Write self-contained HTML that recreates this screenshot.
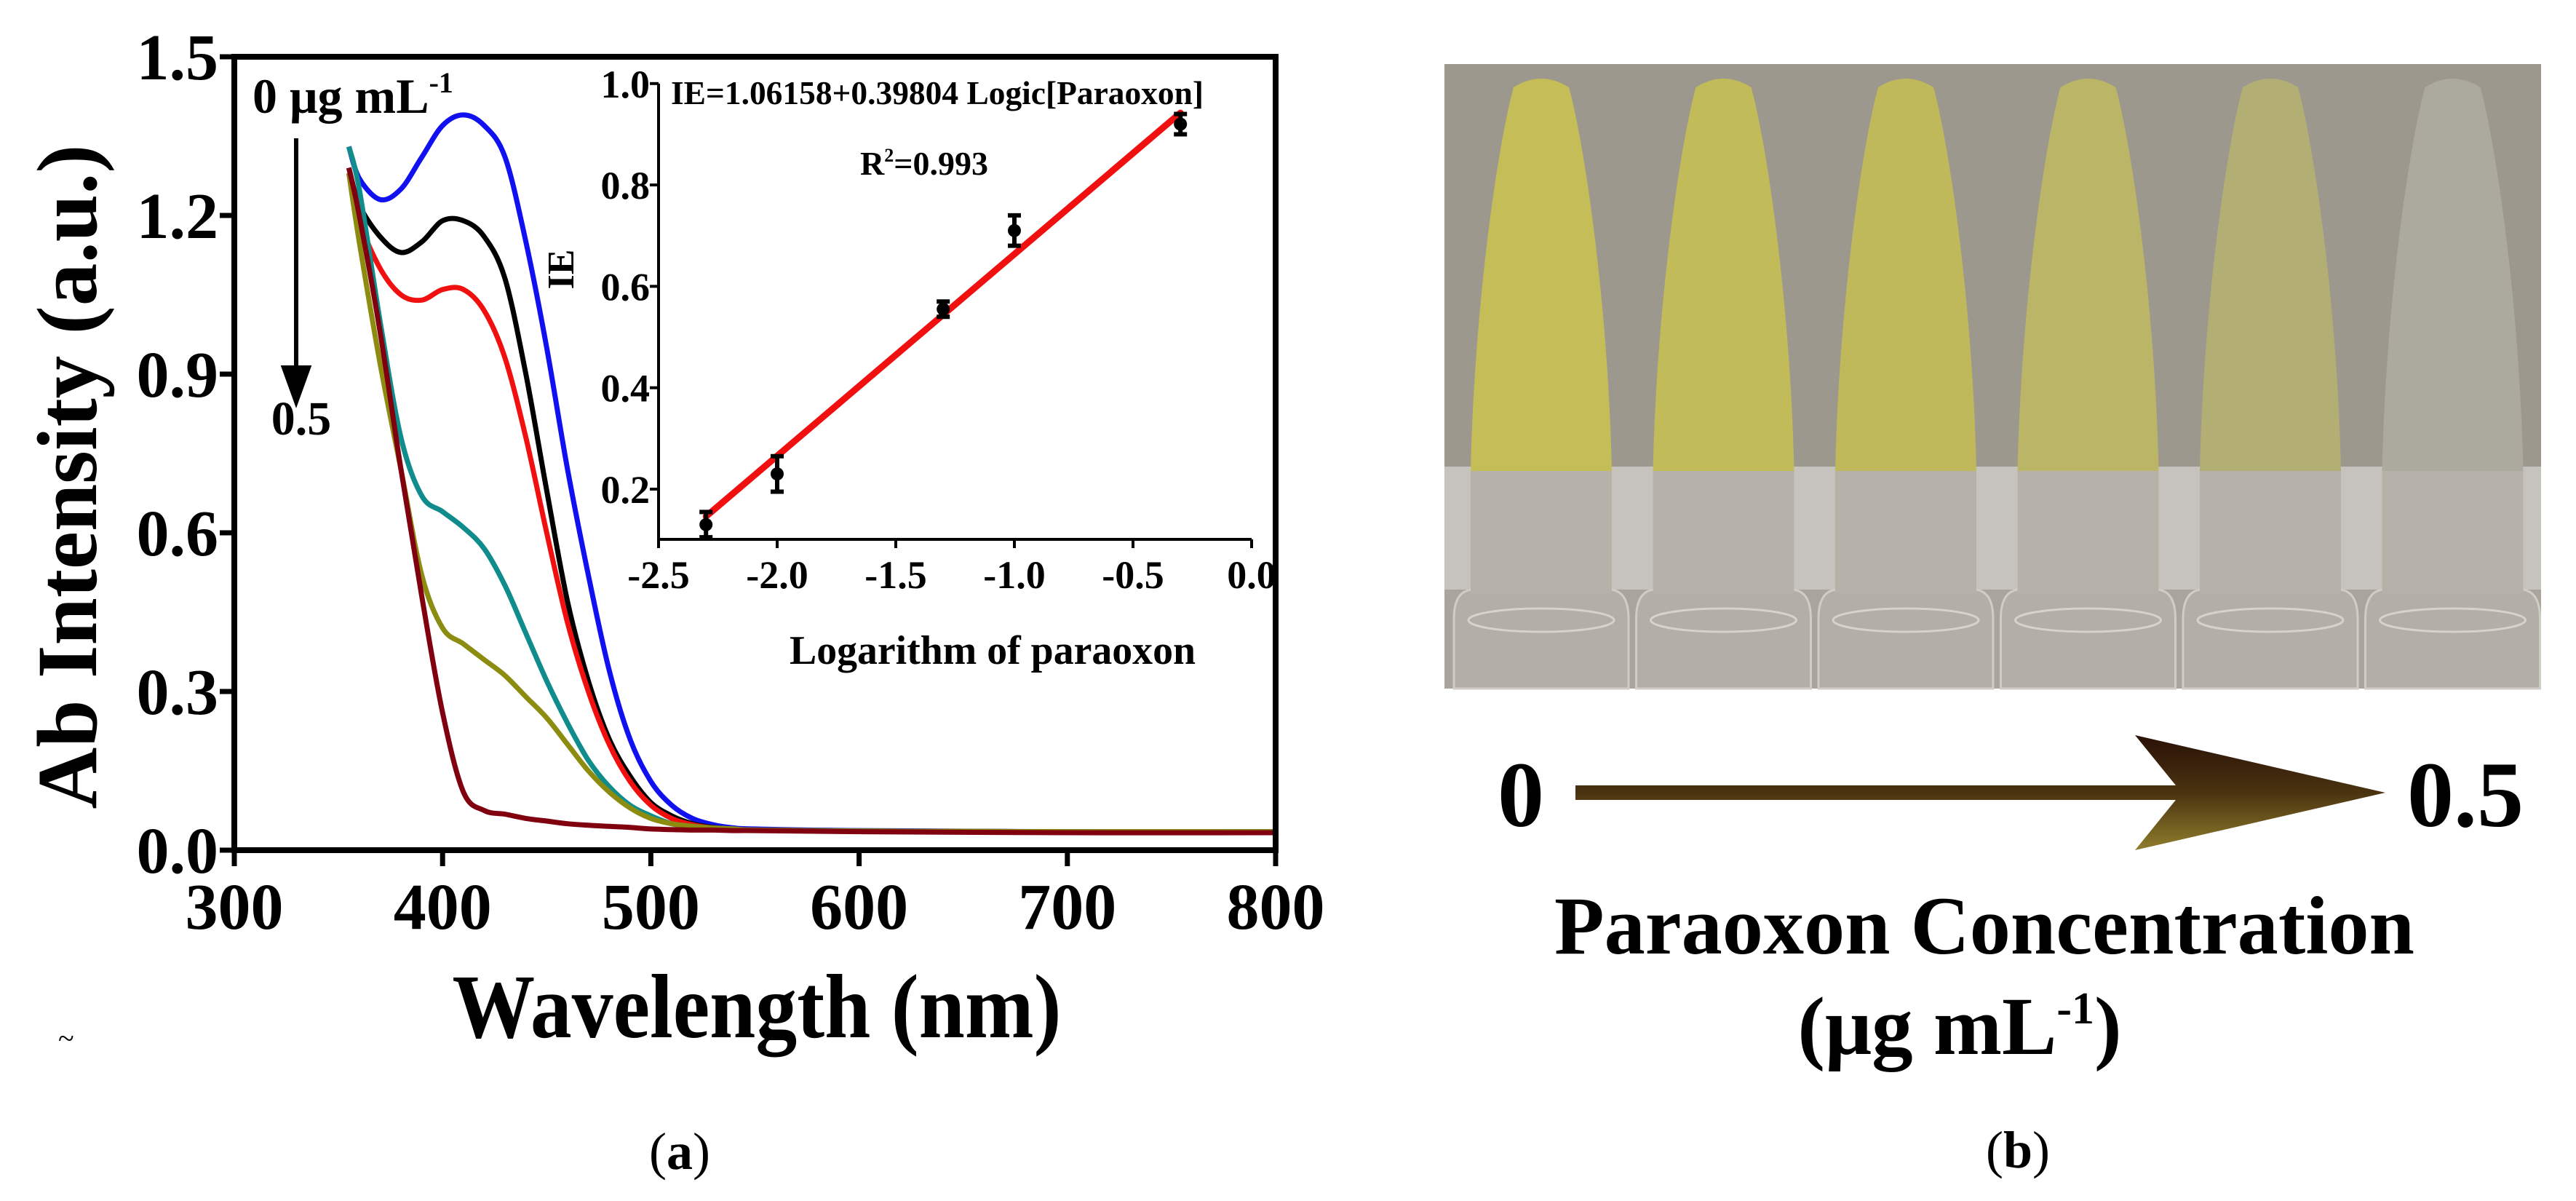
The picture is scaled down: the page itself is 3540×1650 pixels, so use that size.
<!DOCTYPE html>
<html><head><meta charset="utf-8"><style>
html,body{margin:0;padding:0;background:#fff}
svg{display:block}
text{font-family:"Liberation Serif",serif;font-weight:bold;fill:#000}
</style></head><body>
<svg id="fig" xmlns="http://www.w3.org/2000/svg" width="3540" height="1650" viewBox="0 0 3540 1650">
<defs>
<linearGradient id="arrowGrad" x1="0" y1="0" x2="0" y2="1">
<stop offset="0" stop-color="#2a1208"/><stop offset="0.5" stop-color="#4a3310"/><stop offset="1" stop-color="#8f7d2c"/>
</linearGradient>
</defs>
<g id="panelA"></g>
<g id="inset"></g>
<g id="panelB"></g>
<text x="934" y="1606" font-size="72" text-anchor="middle" style="font-weight:normal">(<tspan style="font-weight:bold">a</tspan>)</text>
<text x="2773" y="1604" font-size="72" text-anchor="middle" style="font-weight:normal">(<tspan style="font-weight:bold">b</tspan>)</text>
<text x="80" y="1440" font-size="40" style="font-weight:normal">~</text>
</svg>
<script>
// ---- Panel (a) data ----
const wavelengths = [355,360,370,380,390,400,410,420,430,440,450,460,470,480,490,500,510,520,530,540,550,600,700,800];
const seriesNames = ['0','0.05','0.1','0.2','0.3','0.5'];
const seriesColors = ['#1010f0','#000000','#f01010','#108c8c','#8c8c10','#800010'];
const blueVals   = [1.33,1.27,1.23,1.25,1.31,1.37,1.39,1.37,1.31,1.15,0.95,0.72,0.52,0.34,0.21,0.13,0.085,0.06,0.048,0.042,0.04,0.037,0.035,0.035];
const blackVals  = [1.29,1.22,1.16,1.13,1.15,1.19,1.19,1.16,1.08,0.90,0.68,0.47,0.32,0.21,0.14,0.09,0.065,0.05,0.043,0.04,0.038,0.036,0.035,0.035];
const redVals    = [1.28,1.19,1.10,1.05,1.04,1.06,1.06,1.02,0.93,0.78,0.60,0.43,0.30,0.20,0.13,0.085,0.06,0.048,0.042,0.04,0.038,0.036,0.035,0.035];
const tealVals   = [1.33,1.25,1.00,0.78,0.67,0.64,0.61,0.57,0.50,0.41,0.32,0.24,0.17,0.12,0.085,0.065,0.05,0.045,0.042,0.04,0.038,0.036,0.035,0.035];
const oliveVals  = [1.28,1.15,0.92,0.72,0.52,0.42,0.39,0.36,0.33,0.29,0.25,0.20,0.15,0.11,0.08,0.06,0.05,0.045,0.042,0.04,0.038,0.036,0.035,0.035];
const maroonVals = [1.29,1.20,0.98,0.72,0.48,0.26,0.11,0.075,0.068,0.06,0.055,0.05,0.047,0.045,0.043,0.04,0.039,0.038,0.038,0.037,0.037,0.035,0.033,0.033];
const xTicks = [300,400,500,600,700,800];
const yTicks = [0.0,0.3,0.6,0.9,1.2,1.5];
const yTickLabels = ['0.0','0.3','0.6','0.9','1.2','1.5'];
// ---- Inset data ----
const logConc = [-2.3,-2.0,-1.3,-1.0,-0.3];
const ieVals = [0.13,0.23,0.555,0.71,0.92];
const ieErr = [0.025,0.035,0.015,0.03,0.02];
const fitIntercept = 1.06158;
const fitSlope = 0.39804;
const insetXTicks = [-2.5,-2.0,-1.5,-1.0,-0.5,0.0];
const insetXLabels = ['-2.5','-2.0','-1.5','-1.0','-0.5','0.0'];
const insetYTicks = [0.2,0.4,0.6,0.8,1.0];
const insetYLabels = ['0.2','0.4','0.6','0.8','1.0'];
// ---- Panel (b) data ----
const tubeConc = ['0','0.05','0.1','0.2','0.3','0.5'];
const tubeColors = ['#c4bd58','#c2bb5a','#c0b95c','#bab567','#b3ae74','#aca99f'];

const NS='http://www.w3.org/2000/svg';
function mk(tag, attrs, parent){const e=document.createElementNS(NS,tag);for(const k in attrs)e.setAttribute(k,attrs[k]);parent.appendChild(e);return e;}

const L=322,R=1753,T=78,B=1168;
const xS = w => L + (w-300)/500*(R-L);
const yS = v => B - v/1.5*(B-T);
const A=document.getElementById('panelA');

function smoothPath(pts){
  let d='M'+pts[0][0].toFixed(1)+','+pts[0][1].toFixed(1);
  for(let i=0;i<pts.length-1;i++){
    const p0=pts[i-1]||pts[i],p1=pts[i],p2=pts[i+1],p3=pts[i+2]||p2;
    const c1=[p1[0]+(p2[0]-p0[0])/6,p1[1]+(p2[1]-p0[1])/6];
    const c2=[p2[0]-(p3[0]-p1[0])/6,p2[1]-(p3[1]-p1[1])/6];
    d+=' C'+c1[0].toFixed(1)+','+c1[1].toFixed(1)+' '+c2[0].toFixed(1)+','+c2[1].toFixed(1)+' '+p2[0].toFixed(1)+','+p2[1].toFixed(1);
  }
  return d;
}
const allSeries=[blueVals,blackVals,redVals,tealVals,oliveVals,maroonVals];
allSeries.forEach((vals,si)=>{
  const pts=wavelengths.map((w,i)=>[xS(w),yS(vals[i])]);
  const p=mk('path',{d:smoothPath(pts),fill:'none',stroke:seriesColors[si],'stroke-width':7,'stroke-linejoin':'round'},A);
  
  
});
const fr=mk('rect',{x:L,y:T,width:R-L,height:B-T,fill:'none',stroke:'#000','stroke-width':8},A);


xTicks.forEach(t=>{
  const x=xS(t);
  const tk=mk('line',{x1:x,y1:B,x2:x,y2:B+22,stroke:'#000','stroke-width':7},A);
  
  
  const tx=mk('text',{x:x,y:1276,'font-size':90,'text-anchor':'middle'},A);
  tx.textContent=t;
  
  
});
yTicks.forEach((t,i)=>{
  const y=yS(t);
  const tk=mk('line',{x1:L-20,y1:y,x2:L,y2:y,stroke:'#000','stroke-width':7},A);
  
  
  const tx=mk('text',{x:300,y:y+31,'font-size':90,'text-anchor':'end'},A);
  tx.textContent=yTickLabels[i];
  
  
});
const xt=mk('text',{x:1040,y:1425,'font-size':125,'text-anchor':'middle',textLength:837,lengthAdjust:'spacingAndGlyphs'},A);
xt.textContent='Wavelength (nm)';


const yt=mk('text',{x:0,y:0,'font-size':118,'text-anchor':'middle',textLength:913,lengthAdjust:'spacingAndGlyphs',transform:'translate(132,655) rotate(-90)'},A);
yt.textContent='Ab Intensity (a.u.)';


const ct=mk('text',{x:347,y:155,'font-size':68},A);
ct.innerHTML='0 μg mL<tspan dy="-28" font-size="40">-1</tspan>';


const arr=mk('path',{d:'M407,190 L407,515 M390,505 L407,552 L424,505 Z',stroke:'#000','stroke-width':6,fill:'#000'},A);


const ce=mk('text',{x:414,y:597,'font-size':66,'text-anchor':'middle'},A);
ce.textContent='0.5';



const I=document.getElementById('inset');
const iL=905,iR=1720,iB=741;
const ixS = v => iL + (v+2.5)/2.5*(iR-iL);
const iyS = v => 672 - (v-0.2)/0.2*139.3;
const ax=mk('path',{d:`M${iL},${iyS(1.0)} L${iL},${iB} L${iR},${iB}`,fill:'none',stroke:'#000','stroke-width':4},I);


insetXTicks.forEach((t,i)=>{
  const x=ixS(t);
  const tk=mk('line',{x1:x,y1:iB,x2:x,y2:iB+12,stroke:'#000','stroke-width':4},I);
  
  
  const tx=mk('text',{x:x,y:808,'font-size':54,'text-anchor':'middle'},I);
  tx.textContent=insetXLabels[i];
  
  
});
insetYTicks.forEach((t,i)=>{
  const y=iyS(t);
  const tk=mk('line',{x1:iL-12,y1:y,x2:iL,y2:y,stroke:'#000','stroke-width':4},I);
  
  
  const tx=mk('text',{x:iL-12,y:y+19,'font-size':54,'text-anchor':'end'},I);
  tx.textContent=insetYLabels[i];
  
  
});
const fx0=logConc[0],fx1=logConc[logConc.length-1];
const fl=mk('line',{x1:ixS(fx0),y1:iyS(fitIntercept+fitSlope*fx0),x2:ixS(fx1),y2:iyS(fitIntercept+fitSlope*fx1),stroke:'#f01010','stroke-width':9,'stroke-linecap':'round'},I);


logConc.forEach((c,i)=>{
  const x=ixS(c),y=iyS(ieVals[i]),e=ieErr[i]*696.5;
  const eb=mk('path',{d:`M${x},${y-e} L${x},${y+e} M${x-9},${y-e} L${x+9},${y-e} M${x-9},${y+e} L${x+9},${y+e}`,stroke:'#000','stroke-width':6},I);
  
  
  const pt=mk('circle',{cx:x,cy:y,r:9,fill:'#000'},I);
  
  
});
const eq=mk('text',{x:922,y:143,'font-size':46,textLength:732,lengthAdjust:'spacingAndGlyphs'},I);
eq.textContent='IE=1.06158+0.39804 Logic[Paraoxon]';


const r2=mk('text',{x:1182,y:240,'font-size':46},I);
r2.innerHTML='R<tspan dy="-18" font-size="26">2</tspan><tspan dy="18">=0.993</tspan>';


const ixl=mk('text',{x:1364,y:912,'font-size':56,'text-anchor':'middle',textLength:558,lengthAdjust:'spacingAndGlyphs'},I);
ixl.textContent='Logarithm of paraoxon';


const iyl=mk('text',{x:0,y:0,'font-size':52,'text-anchor':'middle',transform:'translate(788,370) rotate(-90)'},I);
iyl.textContent='IE';



const P=document.getElementById('panelB');
const ph=mk('rect',{x:1985,y:88,width:1507,height:858,fill:'#9d988e'},P);


const band=mk('rect',{x:1985,y:641,width:1507,height:170,fill:'#c6c3be'},P);


const base=mk('rect',{x:1985,y:810,width:1507,height:136,fill:'#a9a49c'},P);


const tubeStart=2118, tubeStep=250.5;
tubeConc.forEach((c,i)=>{
  const cx=tubeStart+i*tubeStep;
  const g=mk('g',{},P);
  
  
  mk('path',{d:`M${cx-120},946 L${cx-120},850 Q${cx-120},812 ${cx-95},810 L${cx+95},810 Q${cx+120},812 ${cx+120},850 L${cx+120},946 Z`,fill:'#b3afa6',stroke:'#d0cdc6','stroke-width':3},g);
  mk('rect',{x:cx-97,y:645,width:194,height:170,fill:'#b6b2aa'},g);
  mk('path',{d:`M${cx-97},647 C${cx-92},420 ${cx-60},200 ${cx-38},120 Q${cx},96 ${cx+38},120 C${cx+60},200 ${cx+92},420 ${cx+97},647 Z`,fill:tubeColors[i]},g);
  mk('ellipse',{cx:cx,cy:852,rx:100,ry:16,fill:'none',stroke:'#d6d3cd','stroke-width':3},g);
});
const ba=mk('path',{d:'M2165,1079 L2990,1079 L2934,1010 L3278,1089 L2934,1168 L2990,1099 L2165,1099 Z',fill:'url(#arrowGrad)'},P);


const b0=mk('text',{x:2090,y:1135,'font-size':128,'text-anchor':'middle'},P);
b0.textContent='0';


const b5=mk('text',{x:3388,y:1135,'font-size':128,'text-anchor':'middle'},P);
b5.textContent='0.5';


const pc=mk('text',{x:2727,y:1310,'font-size':113,'text-anchor':'middle',textLength:1182,lengthAdjust:'spacingAndGlyphs'},P);
pc.textContent='Paraoxon Concentration';


const pu=mk('text',{x:2693,y:1448,'font-size':113,'text-anchor':'middle'},P);
pu.innerHTML='(μg mL<tspan dy="-42" font-size="62">-1</tspan><tspan dy="42">)</tspan>';


</script>
</body></html>
